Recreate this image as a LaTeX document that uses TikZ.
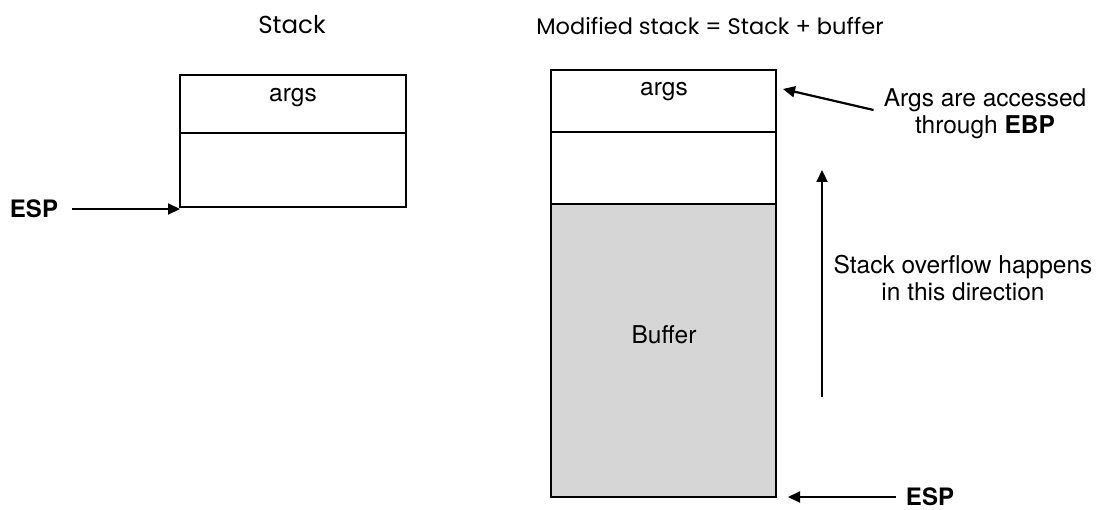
\documentclass[tikz,border=0pt]{standalone}
\usepackage{fontspec}
\setmainfont{TeX Gyre Heros}
\newfontfamily\titlefont{Poppins}
\usetikzlibrary{arrows.meta}
\definecolor{buffergray}{RGB}{214,214,214}
\tikzset{
  cell/.style={draw=black, line width=2.4pt, inner sep=0pt, outer sep=0pt, anchor=north west},
  lbl/.style={inner sep=0pt, font=\fontsize{24.5}{27}\selectfont, align=center},
  esp/.style={inner sep=0pt, font=\bfseries\fontsize{24}{27}\selectfont},
  ttl/.style={inner sep=0pt, font=\titlefont\fontsize{22.5}{28}\selectfont},
  arr/.style={line width=2.2pt, -{Triangle[length=12pt,width=11pt]}}
}
\begin{document}
\begin{tikzpicture}[x=1pt,y=-1pt]
\useasboundingbox (0,0) rectangle (1103,510);
% titles
\node[ttl, font=\titlefont\fontsize{24.5}{28}\selectfont] (t1) at (292,25) {Stack};
\node[ttl] (t2) at (710,26) {Modified stack = Stack + buffer};
% left stack
\node[cell, minimum width=226pt, minimum height=58pt] (largs) at (180,75) {};
\node[cell, minimum width=226pt, minimum height=74pt] (lbot) at (180,133) {};
\node[lbl] (largst) at (293,98) {args};
% right stack
\node[cell, minimum width=225pt, minimum height=62pt] (rargs) at (551,70) {};
\node[cell, minimum width=225pt, minimum height=72pt] (rmid) at (551,132) {};
\node[cell, fill=buffergray, minimum width=225pt, minimum height=293pt] (rbuf) at (551,204) {};
\node[lbl] (rargst) at (664,92) {args};
\node[lbl] (buft) at (664,335) {Buffer};
% ESP left
\node[esp] (espL) at (34,209) {ESP};
\draw[arr, shorten <=14pt] (espL.east) -- (espL.east -| lbot.west);
% ESP right
\node[esp] (espR) at (930,497) {ESP};
\draw[arr, shorten <=10pt, shorten >=12pt] (espR.west) -- (espR.west -| rbuf.east);
% args note
\node[lbl] (note) at (985,114) {Args are accessed\\through \textbf{EBP}};
\draw[arr] ([xshift=-10pt,yshift=4pt]note.west) -- ([xshift=7pt,yshift=12pt]rargs.east);
% overflow
\node[lbl] (ovt) at (963,278) {Stack overflow happens\\in this direction};
\coordinate (ovs) at (822,397);
\coordinate (ove) at (822,170);
\draw[arr] (ovs) -- (ove);
\end{tikzpicture}
\end{document}
